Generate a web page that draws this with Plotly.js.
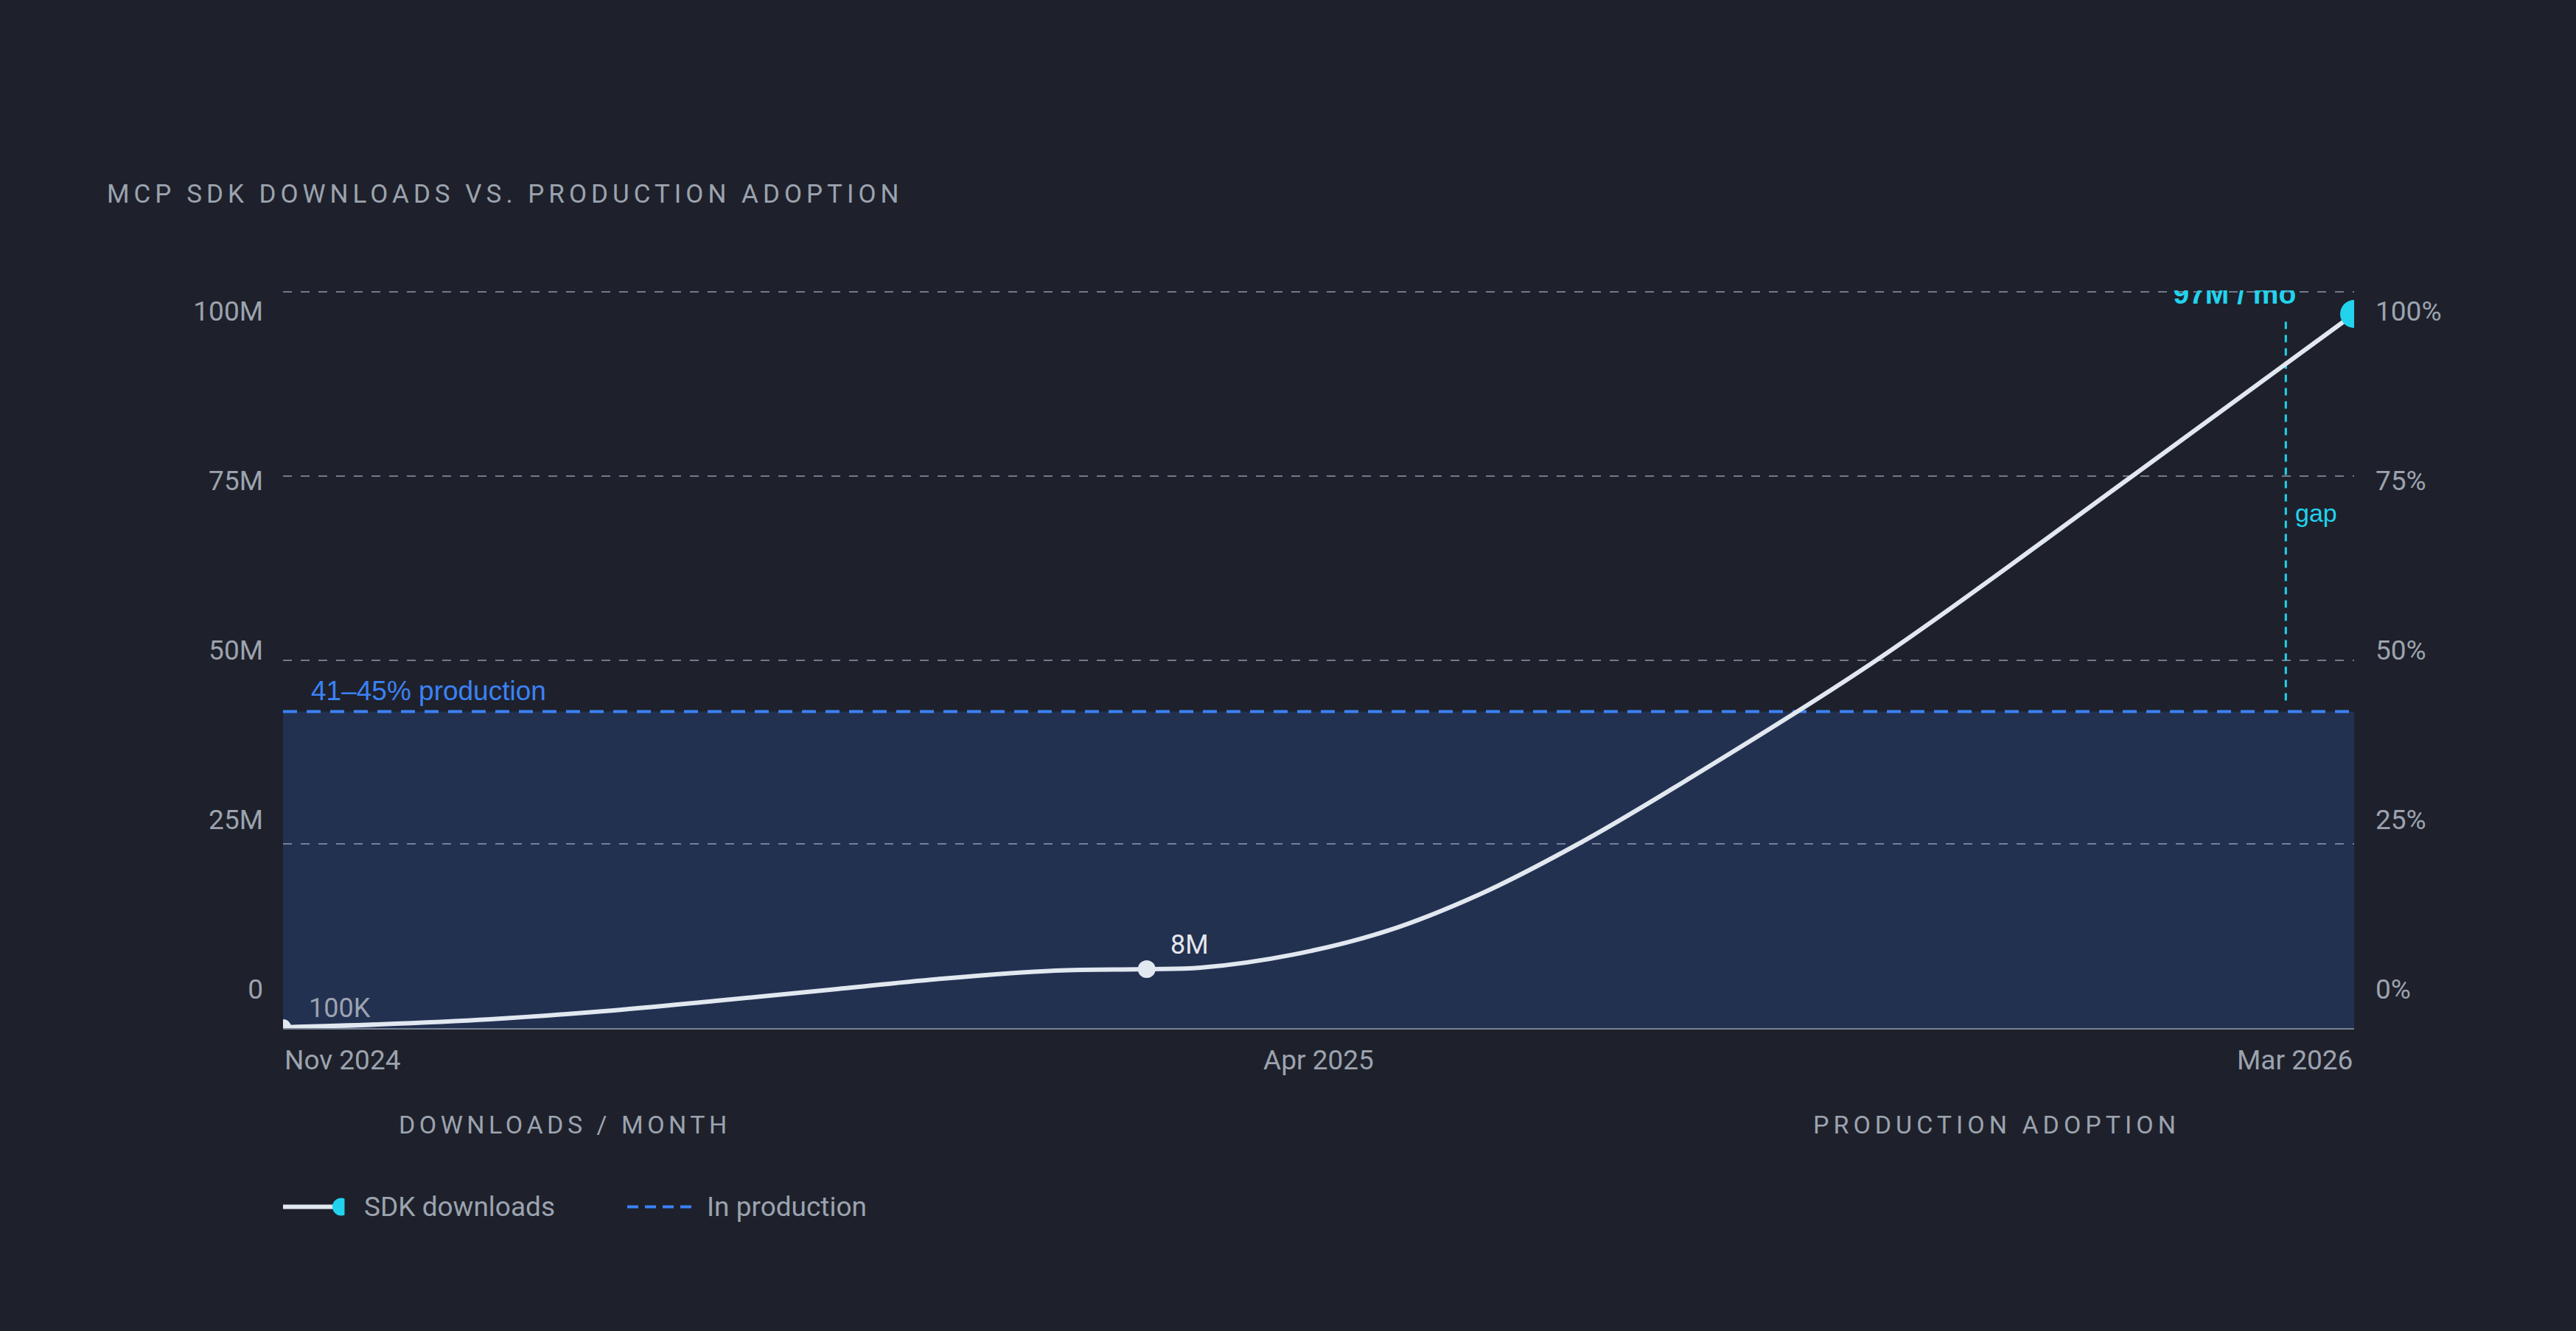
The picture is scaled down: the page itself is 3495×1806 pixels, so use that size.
<!DOCTYPE html>
<html>
<head>
<meta charset="utf-8">
<script src="https://cdn.plot.ly/plotly-3.0.1.min.js"></script>
<style>
  html, body { margin: 0; padding: 0; background: #1e212b; }
  #chart { width: 3495px; height: 1806px; }
</style>
</head>
<body>
<div id="chart"></div>
<script>
'use strict';

// downloads curve (pos = share of the timeline, value in M / month)
const trendPos = [0, 0.046, 0.1, 0.155, 0.209, 0.264, 0.318, 0.373, 0.417, 0.443, 0.488, 0.533, 0.578, 0.624, 0.669, 0.77, 0.893, 1];
const trendVal = [0.1, 0.5, 1.2, 2.3, 3.7, 5.2, 6.7, 7.8, 8.0, 8.2, 10.0, 13.2, 18.2, 24.8, 32.2, 50.1, 75, 97];

// labelled milestones
const milePos = [0, 0.417, 1];
const mileVal = [0.1, 8, 97];
const mileText = ['100K', '8M', '97M / mo'];
const peakLabelPos = 0.972, peakLabelY = 97.4;

// production adoption band (41–45%, drawn at the midpoint)
const production = 43;
const gapPos = 0.967, gapTop = 96.2, gapBottom = 44.5;

// axes
const tickVals = [0, 25, 50, 75, 100];
const leftTicks = ['0', '25M', '50M', '75M', '100M'];
const rightTicks = ['0%', '25%', '50%', '75%', '100%'];
const xTickPos = [0, 0.5, 1];
const xTickText = ['Nov 2024', 'Apr 2025', 'Mar 2026'];
const xTickAnchor = ['left', 'center', 'right'];

const BG = '#1e212b', GREY = '#9ca3af', WHITE = '#e2e8f0', CYAN = '#22d3ee', BLUE = '#3b82f6';
const PLEX = 'Roboto, "Noto Sans", sans-serif';
const ARIAL = '"Liberation Sans", Arial, sans-serif';
const spaced = (t, ls) => `<span style="letter-spacing:${ls}px">${t}</span>`;

// label axes share the plot height but put their ticks where the picture has them
const labelRange = [-5.76, 103.04];

const traces = [
    { x: trendPos, y: trendVal, type: 'scatter', mode: 'lines', line: { color: WHITE, width: 6, shape: 'spline', smoothing: 1 }, cliponaxis: true, hoverinfo: 'skip' },
    { x: milePos, y: mileVal, type: 'scatter', mode: 'markers', marker: { color: [WHITE, WHITE, CYAN], size: [22, 24, 38], opacity: 1, line: { width: 0 } }, cliponaxis: true, hoverinfo: 'skip' },
    { x: [peakLabelPos], y: [peakLabelY], type: 'scatter', mode: 'text', text: [mileText[2]], textposition: 'top left', textfont: { family: ARIAL, size: 39, color: CYAN, weight: 'bold' }, marker: { size: 1 }, cliponaxis: true, hoverinfo: 'skip' },
    { x: [], y: [], yaxis: 'y2', type: 'scatter', hoverinfo: 'skip' },
    { x: [], y: [], yaxis: 'y3', type: 'scatter', hoverinfo: 'skip' }
];

const annotations = [
    { x: milePos[0], y: mileVal[0], text: mileText[0], xanchor: 'left', yanchor: 'middle', xshift: 33, yshift: 26, font: { family: PLEX, size: 36, color: GREY } },
    { x: milePos[1], y: mileVal[1], text: mileText[1], xanchor: 'left', yanchor: 'middle', xshift: 30, yshift: 33, font: { family: PLEX, size: 36, color: '#e5e7eb' } },
    { x: 0, y: production, text: '41–45% production', xanchor: 'left', yanchor: 'middle', xshift: 36, yshift: 28, font: { family: ARIAL, size: 37, color: BLUE } },
    { x: gapPos, y: (gapTop + gapBottom) / 2, text: 'gap', xanchor: 'left', yanchor: 'middle', xshift: 11, yshift: -4, font: { family: ARIAL, size: 34, color: CYAN } },
    { xref: 'paper', yref: 'paper', x: 0.0552, y: -0.1311, text: spaced('DOWNLOADS / MONTH', 5.5), xanchor: 'left', yanchor: 'middle', font: { family: PLEX, size: 34, color: GREY } },
    { xref: 'paper', yref: 'paper', x: 0.738, y: -0.1311, text: spaced('PRODUCTION ADOPTION', 6), xanchor: 'left', yanchor: 'middle', font: { family: PLEX, size: 34, color: GREY } },
    { xref: 'paper', yref: 'paper', x: 0.0385, y: -0.2422, text: 'SDK downloads', xanchor: 'left', yanchor: 'middle', font: { family: PLEX, size: 37, color: GREY } },
    { xref: 'paper', yref: 'paper', x: 0.204, y: -0.2422, text: 'In production', xanchor: 'left', yanchor: 'middle', font: { family: PLEX, size: 37, color: GREY } }
].concat(xTickPos.map((p, i) => ({
    x: p, yref: 'paper', y: 0, yshift: -43, text: xTickText[i], xanchor: xTickAnchor[i], yanchor: 'middle',
    font: { family: PLEX, size: 37, color: GREY }
})));
annotations.forEach(a => { a.showarrow = false; });

const shapes = [
    // production band + its dashed top
    { type: 'rect', xref: 'x', yref: 'y', x0: 0, x1: 1, y0: 0, y1: production, fillcolor: '#233151', line: { width: 0 }, layer: 'below' },
    { type: 'line', xref: 'x', yref: 'y', x0: 0, x1: 1, y0: production, y1: production, line: { color: BLUE, width: 4, dash: '19px,13px' }, layer: 'between' },
    // gap marker
    { type: 'line', xref: 'x', yref: 'y', x0: gapPos, x1: gapPos, y0: gapBottom, y1: gapTop, line: { color: CYAN, width: 3, dash: '10px,8px' }, layer: 'between' },
    // legend swatches
    { type: 'line', xref: 'paper', yref: 'paper', x0: 0, x1: 0.0245, y0: -0.2422, y1: -0.2422, line: { color: WHITE, width: 6 } },
    { type: 'circle', xref: 'paper', yref: 'paper', xsizemode: 'pixel', ysizemode: 'pixel', xanchor: 0.0281, yanchor: -0.2422, x0: -12, x1: 12, y0: -12, y1: 12, fillcolor: CYAN, line: { width: 0 } },
    { type: 'rect', xref: 'paper', yref: 'paper', xsizemode: 'pixel', ysizemode: 'pixel', xanchor: 0.0297, yanchor: -0.2422, x0: 0, x1: 12, y0: -14, y1: 14, fillcolor: BG, line: { width: 0 } },
    { type: 'line', xref: 'paper', yref: 'paper', x0: 0.1662, x1: 0.1972, y0: -0.2422, y1: -0.2422, line: { color: BLUE, width: 4, dash: '15px,9px' } }
];

const layout = {
    width: 3495, height: 1806,
    paper_bgcolor: BG, plot_bgcolor: 'rgba(0,0,0,0)',
    margin: { l: 384, r: 301, t: 394, b: 411 },
    showlegend: false,
    title: {
        text: spaced('MCP SDK DOWNLOADS VS. PRODUCTION ADOPTION', 6),
        font: { family: PLEX, size: 35, color: GREY },
        xref: 'container', yref: 'container', x: 0.0415, xanchor: 'left', y: 0.8544, yanchor: 'middle'
    },
    xaxis: { range: [0, 1], showgrid: false, zeroline: false, showline: true, linecolor: 'rgba(148,163,184,0.75)', linewidth: 2, showticklabels: false, ticks: '', fixedrange: true },
    yaxis: { range: [0, 100.2], tickvals: tickVals, showgrid: true, gridcolor: 'rgba(170,180,200,0.6)', gridwidth: 2, griddash: '12px,12px', zeroline: false, showticklabels: false, ticks: '', fixedrange: true },
    yaxis3: { overlaying: 'y', side: 'left', range: labelRange, tickvals: tickVals, ticktext: leftTicks, showgrid: false, zeroline: false, showline: false, ticks: '', ticklabelstandoff: 26, tickfont: { family: PLEX, size: 37, color: GREY }, fixedrange: true },
    yaxis2: { overlaying: 'y', side: 'right', range: labelRange, tickvals: tickVals, ticktext: rightTicks, showgrid: false, zeroline: false, showline: false, ticks: '', ticklabelstandoff: 28, tickfont: { family: PLEX, size: 37, color: GREY }, fixedrange: true },
    annotations, shapes
};

Plotly.newPlot('chart', traces, layout, { displayModeBar: false, staticPlot: true });
</script>
</body>
</html>
